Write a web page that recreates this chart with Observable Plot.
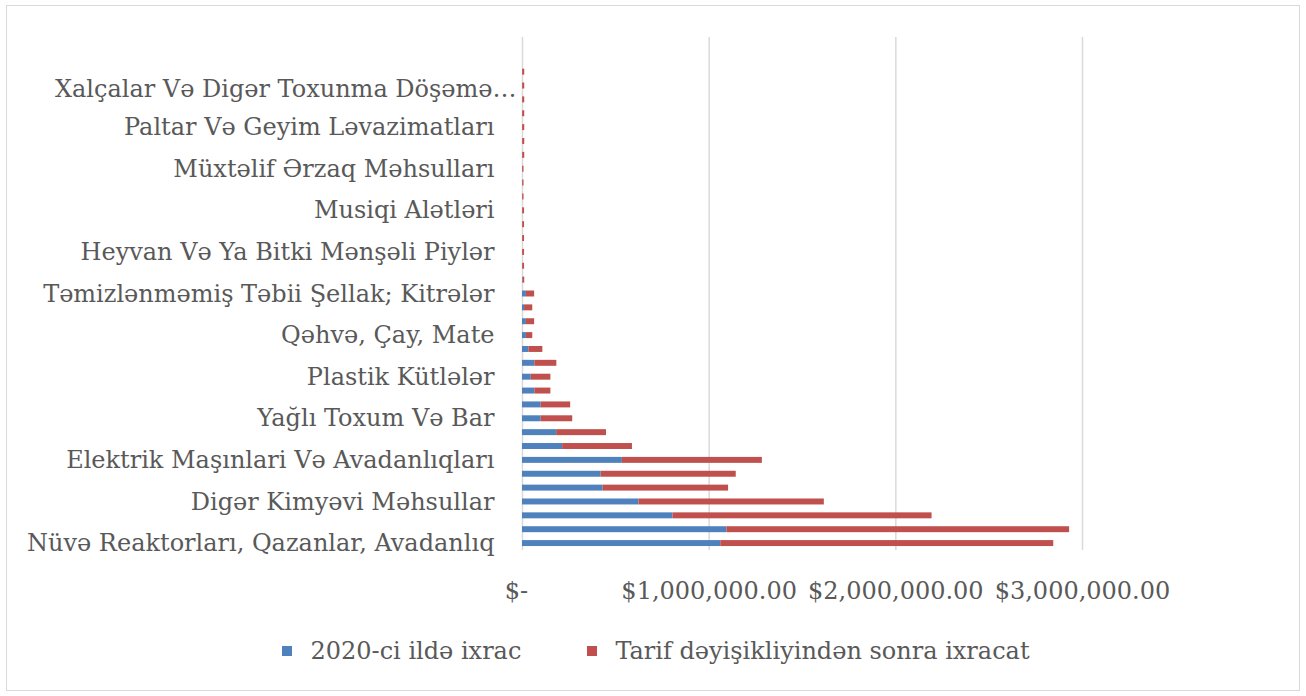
<!DOCTYPE html>
<html>
<head>
<meta charset="utf-8">
<script src="https://cdn.jsdelivr.net/npm/d3@7"></script>
<script src="https://cdn.jsdelivr.net/npm/@observablehq/plot@0.6"></script>
<style>
  html, body { margin: 0; padding: 0; background: #fff; width: 1306px; height: 696px; overflow: hidden; }
  #frame { position: absolute; left: 6px; top: 5px; width: 1294px; height: 686px; border: 1.5px solid #d9d9d9; box-sizing: border-box; }
  #chart { position: absolute; left: 0; top: 0; }
  #legend { position: absolute; left: 36px; top: 634px; width: 1306px; }
  .lg-swatches { justify-content: center !important; font-family: "DejaVu Serif", serif !important; font-size: 24px !important; color: #595959 !important; }
  .lg-swatch { margin-right: 66px !important; }
  .lg-swatch > svg { margin-right: 18px !important; }
</style>
</head>
<body>
<div id="frame"></div>
<div id="chart"></div>
<div id="legend"></div>
<script>
// Categories, bottom (index 0) to top; only every third row carries a readable label
const categories = [
  "Nüvə Reaktorları, Qazanlar, Avadanlıq", "", "",
  "Digər Kimyəvi Məhsullar", "", "",
  "Elektrik Maşınlari Və Avadanlıqları", "", "",
  "Yağlı Toxum Və Bar", "", "",
  "Plastik Kütlələr", "", "",
  "Qəhvə, Çay, Mate", "", "",
  "Təmizlənməmiş Təbii Şellak; Kitrələr", "", "",
  "Heyvan Və Ya Bitki Mənşəli Piylər", "", "",
  "Musiqi Alətləri", "", "",
  "Müxtəlif Ərzaq Məhsulları", "", "",
  "Paltar Və Geyim Ləvazimatları", "", "",
  "Xalçalar Və Digər Toxunma Döşəmə…", "", "",
  ""
];

const seriesNames = ["2020-ci ildə ixrac", "Tarif dəyişikliyindən sonra ixracat"];
const seriesColors = ["#4F81BD", "#C0504D"];

// 2020 exports (blue), bottom to top
const exports2020 = [
  1062000, 1095000, 806000, 624000, 432000, 421000, 535000, 215000, 183000, 100000,
  100000, 66000, 47000, 66000, 34000, 21000, 21000, 11000, 21000, 3000,
  1000, 1000, 1000, 1000, 1000, 1000, 1000, 1000, 1000, 1000,
  1000, 1000, 1000, 1000, 1000, 0, 0
];
// Exports after tariff change (red), bottom to top
const afterTariff = [
  1784000, 1836000, 1388000, 993000, 672000, 724000, 750000, 374000, 267000, 169000,
  158000, 86000, 105000, 118000, 75000, 34000, 44000, 44000, 44000, 9000,
  10000, 10000, 10000, 10000, 10000, 7000, 7000, 7000, 11000, 11000,
  11000, 11000, 11000, 11000, 11000, 0, 0
];

const xTicks = [0, 1000000, 2000000, 3000000];

const n = categories.length;
const rows = [];
for (let i = 0; i < n; i++) {
  rows.push({i, series: seriesNames[0], value: exports2020[i]});
  rows.push({i, series: seriesNames[1], value: afterTariff[i]});
}
const labeled = d3.range(n).filter(i => categories[i] !== "");
const truncated = labeled.filter(i => categories[i].endsWith("…"));
const plain = labeled.filter(i => !categories[i].endsWith("…"));
const fmtX = v => v === 0 ? "$-\u2002" : "$" + d3.format(",.2f")(v);

// Plot area 37..550 holds n equal bands; bars fill 43% of each band
const top0 = 37, bottom0 = 550, fill = 0.43, pad = 1 - fill;
const step = (bottom0 - top0) / n;
const rangeTop = top0 + (1 - fill) * step / 2 - pad * step;
const rangeBottom = rangeTop + step * (n + pad);

const plot = Plot.plot({
  width: 1306,
  height: 620,
  marginLeft: 522,
  marginRight: 224,
  marginTop: top0,
  marginBottom: 620 - bottom0,
  style: {fontFamily: "DejaVu Serif, serif", fontSize: "24px", color: "#595959", background: "transparent", overflow: "visible"},
  x: {domain: [0, 3000000], label: null},
  y: {domain: d3.range(n).reverse(), range: [rangeTop, rangeBottom], padding: pad, round: false, label: null},
  color: {domain: seriesNames, range: seriesColors},
  marks: [
    Plot.gridX(xTicks, {stroke: "#d9d9d9", strokeOpacity: 1, strokeWidth: 1.5}),
    Plot.barX(rows, {x: "value", y: "i", fill: "series"}),
    Plot.axisX(xTicks, {tickSize: 0, tickPadding: 31, tickFormat: fmtX, fontSize: 24, label: null}),
    Plot.axisY(plain, {tickSize: 0, tickPadding: 28, tickFormat: i => categories[i], fontSize: 24, label: null}),
    Plot.axisY(truncated, {tickSize: 0, tickPadding: 28, dx: 22, dy: 3, tickFormat: i => categories[i], fontSize: 24, label: null})
  ]
});
document.getElementById("chart").appendChild(plot);

const legend = Plot.legend({
  color: {type: "ordinal", domain: seriesNames, range: seriesColors},
  legend: "swatches",
  swatchSize: 10,
  className: "lg"
});
document.getElementById("legend").appendChild(legend);
</script>
</body>
</html>
